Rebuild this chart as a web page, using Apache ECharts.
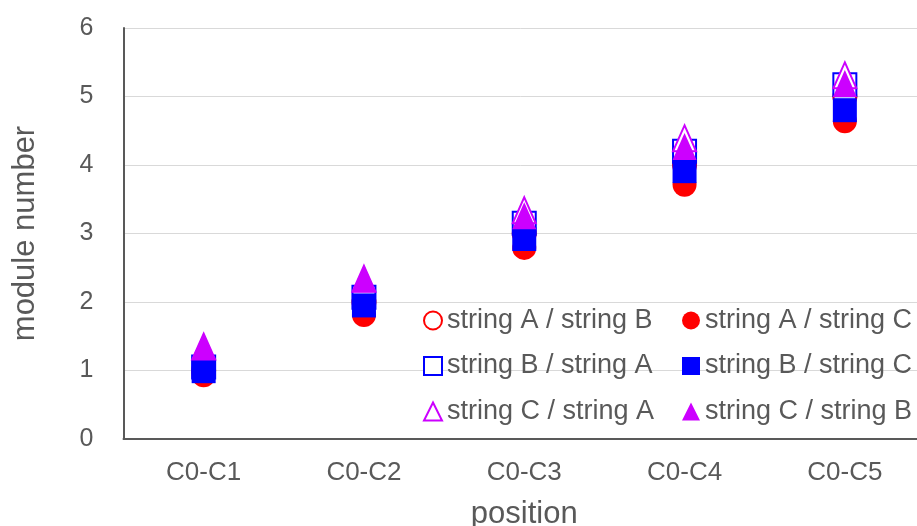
<!DOCTYPE html>
<html>
<head>
<meta charset="utf-8">
<script src="https://cdn.jsdelivr.net/npm/echarts@6/dist/echarts.min.js"></script>
<style>
  html, body { margin: 0; padding: 0; background: #ffffff; }
  #chart { width: 917px; height: 526px; }
</style>
</head>
<body>
<div id="chart"></div>
<script>
// Position pairs along the x axis
const categories = ['C0-C1', 'C0-C2', 'C0-C3', 'C0-C4', 'C0-C5'];

// Module number estimated for each string pair
const stringAoverB = [1.00, 2.00, 3.00, 4.00, 5.00];
const stringAoverC = [0.93, 1.81, 2.79, 3.71, 4.64];
const stringBoverA = [1.05, 2.07, 3.15, 4.20, 5.17];
const stringBoverC = [0.99, 1.95, 2.92, 3.91, 4.80];
const stringCoverA = [1.35, 2.34, 3.34, 4.39, 5.31];
const stringCoverB = [1.35, 2.34, 3.26, 4.27, 5.19];

// Y axis range
const yMin = 0, yMax = 6, yStep = 1;

const FONT = '"Liberation Sans", Arial, sans-serif';
const TEXT = '#595959';
const RED = '#ff0000', BLUE = '#0000ff', MAGENTA = '#cc00ff';

function openSeries(name, data, symbol, color, size) {
  return {
    name, type: 'scatter', data, symbol, symbolSize: size,
    itemStyle: { color: '#ffffff', borderColor: color, borderWidth: 2, opacity: 1 },
    emphasis: { disabled: true }
  };
}
function solidSeries(name, data, symbol, color, size) {
  return {
    name, type: 'scatter', data, symbol, symbolSize: size,
    itemStyle: { color: color, borderWidth: 0, opacity: 1 },
    emphasis: { disabled: true }
  };
}

const legendText = { fontFamily: FONT, fontSize: 27, color: TEXT, lineHeight: 26 };

const chart = echarts.init(document.getElementById('chart'), null, { renderer: 'canvas' });
chart.setOption({
  animation: false,
  backgroundColor: '#ffffff',
  grid: {
    left: 123.5, top: 28, width: 801.5, height: 411,
    containLabel: false, outerBoundsMode: 'none'
  },
  xAxis: {
    type: 'category',
    data: categories,
    boundaryGap: true,
    name: 'position',
    nameLocation: 'middle',
    nameGap: 60,
    nameTextStyle: { fontFamily: FONT, fontSize: 31, color: TEXT },
    axisLine: { show: true, lineStyle: { color: '#595959', width: 2 } },
    axisTick: { show: false },
    axisLabel: { fontFamily: FONT, fontSize: 26, color: TEXT, margin: 21 },
    splitLine: { show: false }
  },
  yAxis: {
    type: 'value',
    min: yMin, max: yMax, interval: yStep,
    name: 'module number',
    nameLocation: 'middle',
    nameGap: 83,
    nameTextStyle: { fontFamily: FONT, fontSize: 31, color: TEXT },
    axisLine: { show: true, lineStyle: { color: '#595959', width: 2 } },
    axisTick: { show: false },
    axisLabel: { fontFamily: FONT, fontSize: 25, color: TEXT, margin: 30 },
    splitLine: { show: true, lineStyle: { color: '#d9d9d9', width: 1 } }
  },
  legend: [
    {
      orient: 'vertical', left: 423, top: 307, padding: 0,
      itemWidth: 18, itemHeight: 18, itemGap: 18.5,
      textStyle: legendText,
      selectedMode: false,
      data: ['string A / string B', 'string B / string A', 'string C / string A']
    },
    {
      orient: 'vertical', left: 682, top: 307, padding: 0,
      itemWidth: 18, itemHeight: 18, itemGap: 18.5,
      textStyle: legendText,
      selectedMode: false,
      data: ['string A / string C', 'string B / string C', 'string C / string B']
    }
  ],
  series: [
    openSeries('string A / string B', stringAoverB, 'circle', RED, 23),
    solidSeries('string A / string C', stringAoverC, 'circle', RED, 24),
    openSeries('string B / string A', stringBoverA, 'rect', BLUE, 23),
    solidSeries('string B / string C', stringBoverC, 'rect', BLUE, 24),
    openSeries('string C / string A', stringCoverA, 'triangle', MAGENTA, [23, 26]),
    solidSeries('string C / string B', stringCoverB, 'triangle', MAGENTA, [24, 27])
  ]
});
</script>
</body>
</html>
